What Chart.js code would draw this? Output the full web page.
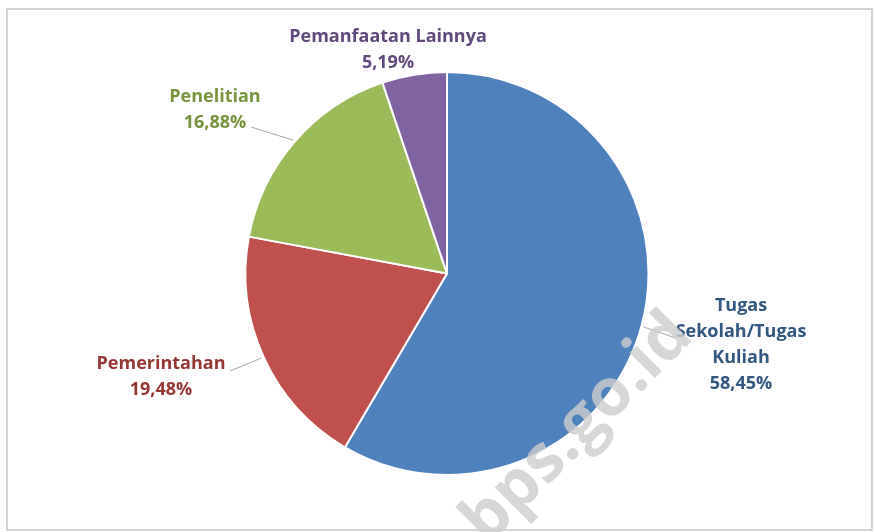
<!DOCTYPE html>
<html>
<head>
<meta charset="utf-8">
<script src="https://cdn.jsdelivr.net/npm/chart.js@4/dist/chart.umd.min.js"></script>
<style>
  html, body { margin: 0; padding: 0; background: #fff; }
  #wrap { width: 874px; height: 532px; }
</style>
</head>
<body>
<div id="wrap"><canvas id="pieChart" width="874" height="532"></canvas></div>
<script>
// data
const categories = ['Tugas Sekolah/Tugas Kuliah', 'Pemerintahan', 'Penelitian', 'Pemanfaatan Lainnya'];
const shares = [58.45, 19.48, 16.88, 5.19];

// label text broken into lines, and where each label sits
const labelLines = [['Tugas', 'Sekolah/Tugas', 'Kuliah'], ['Pemerintahan'], ['Penelitian'], ['Pemanfaatan Lainnya']];
const labelStyle = [
  { x: 741, y: 306, color: '#34577f', lineTo: [676, 338] },
  { x: 161, y: 364, color: '#953735', lineTo: [230, 371] },
  { x: 215, y: 97,  color: '#77933c', lineTo: [251, 127] },
  { x: 388, y: 37,  color: '#5f4a7b', lineTo: null }
];
const sliceColors = ['#4f81bd', '#c0504d', '#9bbb59', '#8064a2'];

const fmt = v => v.toFixed(2).replace('.', ',') + '%';

// frame around the chart
const framePlugin = {
  id: 'frame',
  beforeDraw(chart) {
    const ctx = chart.ctx;
    ctx.save();
    ctx.strokeStyle = '#d4d4d4';
    ctx.lineWidth = 2;
    ctx.strokeRect(7, 9, 865, 521);
    ctx.restore();
  }
};

// slice labels with leader lines
const labelPlugin = {
  id: 'sliceLabels',
  afterDatasetsDraw(chart) {
    const ctx = chart.ctx;
    const meta = chart.getDatasetMeta(0);
    ctx.save();
    meta.data.forEach((arc, i) => {
      const s = labelStyle[i];
      const p = arc.getProps(['x', 'y', 'startAngle', 'endAngle', 'outerRadius'], true);
      const mid = (p.startAngle + p.endAngle) / 2;
      if (s.lineTo) {
        ctx.strokeStyle = '#a6a6a6';
        ctx.lineWidth = 1;
        ctx.beginPath();
        ctx.moveTo(p.x + Math.cos(mid) * (p.outerRadius + 2), p.y + Math.sin(mid) * (p.outerRadius + 2));
        ctx.lineTo(s.lineTo[0], s.lineTo[1]);
        ctx.stroke();
      }
      const lines = labelLines[i].concat([fmt(shares[i])]);
      ctx.fillStyle = s.color;
      ctx.font = 'bold 18px "Open Sans"';
      ctx.textAlign = 'center';
      ctx.textBaseline = 'middle';
      lines.forEach((t, k) => ctx.fillText(t, s.x, s.y + k * 26));
    });
    ctx.restore();
  }
};

// site watermark across the lower right
const watermarkPlugin = {
  id: 'watermark',
  afterDraw(chart) {
    const ctx = chart.ctx;
    ctx.save();
    ctx.translate(695, 338);
    ctx.rotate(-45 * Math.PI / 180);
    ctx.font = 'bold 66px "Open Sans"';
    ctx.textAlign = 'right';
    ctx.textBaseline = 'alphabetic';
    ctx.fillStyle = 'rgba(205,205,205,0.8)';
    ctx.fillText('www.bps.go.id', 0, 0);
    ctx.restore();
  }
};

new Chart(document.getElementById('pieChart'), {
  type: 'pie',
  data: {
    labels: categories,
    datasets: [{
      data: shares,
      backgroundColor: sliceColors,
      borderColor: '#ffffff',
      borderWidth: 2
    }]
  },
  options: {
    responsive: false,
    animation: false,
    layout: { padding: { top: 71, bottom: 56, left: 20, right: 0 } },
    plugins: {
      legend: { display: false },
      tooltip: { enabled: false }
    }
  },
  plugins: [framePlugin, labelPlugin, watermarkPlugin]
});
</script>
</body>
</html>
